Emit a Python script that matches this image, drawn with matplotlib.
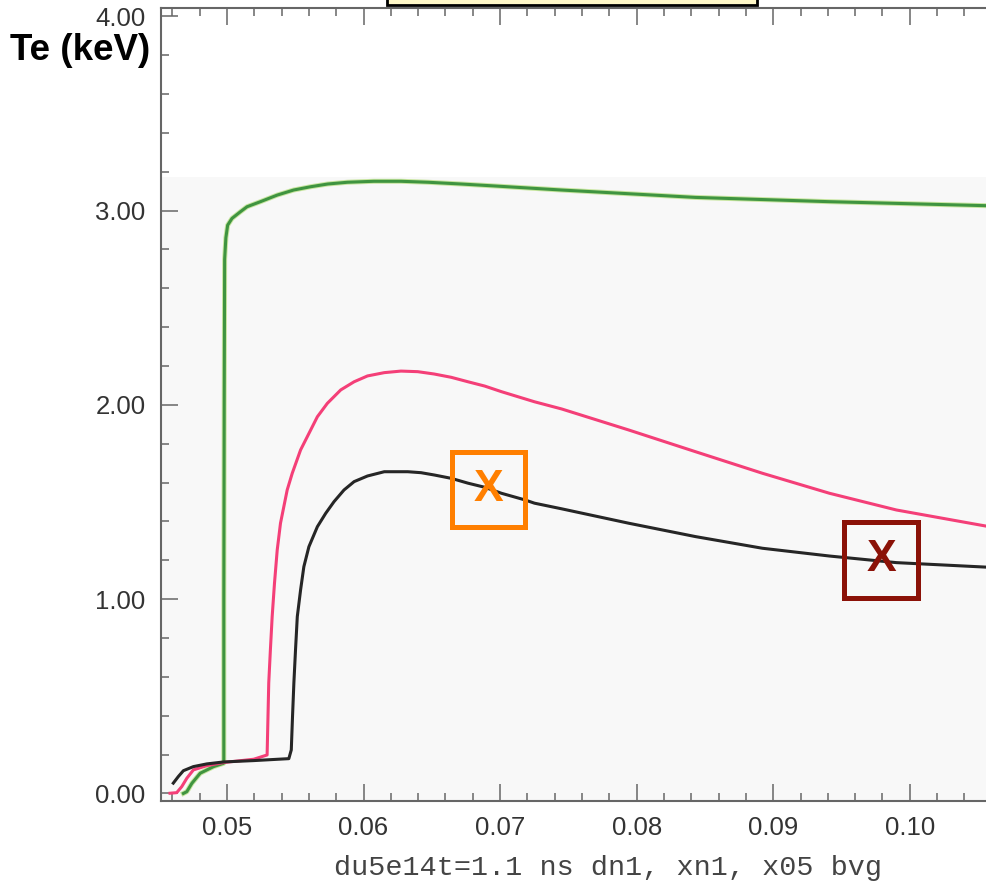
import numpy as np
import matplotlib.pyplot as plt
from matplotlib.patches import Rectangle
from matplotlib.ticker import MultipleLocator, FormatStrFormatter

# Te profiles (x in cm, Te in keV)
green_x = [0.04681, 0.04706, 0.04743, 0.04804, 0.04902, 0.04975, 0.04977, 0.04977,
           0.04980, 0.04983, 0.04992, 0.05005, 0.05037, 0.05098, 0.05147, 0.05245,
           0.05368, 0.05488, 0.05613, 0.05738, 0.05882, 0.06076, 0.06274, 0.06473,
           0.06715, 0.06958, 0.07451, 0.08431, 0.09412, 0.10583]
green_y = [0.000, 0.009, 0.052, 0.104, 0.138, 0.155, 0.157, 0.996,
           2.025, 2.750, 2.860, 2.925, 2.960, 2.994, 3.020, 3.046,
           3.080, 3.106, 3.123, 3.137, 3.146, 3.151, 3.151, 3.146,
           3.137, 3.127, 3.106, 3.068, 3.046, 3.025]

pink_x = [0.04583, 0.04632, 0.04669, 0.04706, 0.04754, 0.04853, 0.04975, 0.05196,
          0.05294, 0.05306, 0.05318, 0.05331, 0.05348, 0.05368, 0.05392, 0.05441,
          0.05478, 0.05539, 0.05588, 0.05662, 0.05735, 0.05833, 0.05931, 0.06029,
          0.06152, 0.06274, 0.06397, 0.06517, 0.06642, 0.06765, 0.06887, 0.07010,
          0.07252, 0.07451, 0.07941, 0.08431, 0.08921, 0.09412, 0.09902, 0.10583]
pink_y = [0.001, 0.004, 0.035, 0.078, 0.121, 0.143, 0.159, 0.176,
          0.198, 0.569, 0.739, 0.910, 1.082, 1.253, 1.391, 1.562,
          1.648, 1.768, 1.836, 1.939, 2.008, 2.077, 2.119, 2.149,
          2.166, 2.174, 2.171, 2.159, 2.142, 2.119, 2.097, 2.068,
          2.016, 1.979, 1.871, 1.759, 1.648, 1.545, 1.459, 1.373]

black_x = [0.04607, 0.04644, 0.04681, 0.04754, 0.04853, 0.04975, 0.05196, 0.05453,
           0.05471, 0.05480, 0.05490, 0.05502, 0.05515, 0.05539, 0.05563, 0.05600,
           0.05662, 0.05723, 0.05784, 0.05857, 0.05931, 0.06029, 0.06152, 0.06225,
           0.06324, 0.06421, 0.06519, 0.06642, 0.06765, 0.06887, 0.07010, 0.07181,
           0.07252, 0.07451, 0.07941, 0.08431, 0.08921, 0.09412, 0.09902, 0.10583]
black_y = [0.053, 0.087, 0.117, 0.138, 0.152, 0.162, 0.169, 0.179,
           0.224, 0.395, 0.569, 0.739, 0.910, 1.047, 1.167, 1.270,
           1.373, 1.442, 1.502, 1.562, 1.605, 1.634, 1.656, 1.656,
           1.656, 1.651, 1.639, 1.622, 1.597, 1.576, 1.545, 1.511,
           1.494, 1.465, 1.391, 1.322, 1.262, 1.222, 1.188, 1.164]

xticks = [0.05, 0.06, 0.07, 0.08, 0.09, 0.10]
yticks = [0.0, 1.0, 2.0, 3.0, 4.0]

# marked points (centre x, centre y, colour)
marks = [(0.06912, 1.565, '#ff7f00'), (0.09789, 1.202, '#8b1208')]

fig = plt.figure(figsize=(9.86, 8.84), dpi=100)
ax = fig.add_axes([161/986, 1 - 801/884, 1 - 161/986, (801 - 8)/884])
ax.set_xlim(0.04517, 0.10558)
ax.set_ylim(-0.039, 4.043)

ax.axhspan(-0.039, 3.173, color='#f8f8f8', zorder=0, lw=0)

ax.plot(green_x, green_y, color='#c8e6a0', lw=3.6, solid_joinstyle='round', zorder=2)
ax.plot(green_x, green_y, color='#3f9440', lw=2.2, solid_joinstyle='round', zorder=3)
ax.plot(pink_x, pink_y, color='#f43f78', lw=2.2, solid_joinstyle='round', zorder=3)
ax.plot(black_x, black_y, color='#262626', lw=2.2, solid_joinstyle='round', zorder=3)

for mx, my, c in marks:
    w, h = 0.00535, 0.387
    ax.add_patch(Rectangle((mx - w/2, my - h/2), w, h, fill=False, ec=c, lw=3.6, zorder=5))
    ax.text(mx, my, 'X', color=c, fontsize=32, fontweight='bold', family='Liberation Sans',
            ha='center', va='center', zorder=6)

ax.set_xticks(xticks)
ax.set_yticks(yticks)
ax.xaxis.set_minor_locator(MultipleLocator(0.002))
ax.yaxis.set_minor_locator(MultipleLocator(0.2))
ax.xaxis.set_major_formatter(FormatStrFormatter('%.2f'))
ax.yaxis.set_major_formatter(FormatStrFormatter('%.2f'))
ax.tick_params(which='both', direction='in', top=True, right=False, color='#666', width=1.1)
ax.tick_params(which='major', length=12, labelsize=18.5, labelcolor='#333')
ax.tick_params(which='minor', length=6)
ax.tick_params(axis='y', pad=11)
ax.tick_params(axis='x', pad=11)
for lab in ax.get_xticklabels() + ax.get_yticklabels():
    lab.set_family('Liberation Sans')

for s in ['left', 'bottom', 'top']:
    ax.spines[s].set_color('#666')
    ax.spines[s].set_linewidth(1.5)
ax.spines['right'].set_visible(False)

fig.text(608/986, 1 - 868/884, 'du5e14t=1.1 ns dn1, xn1, x05 bvg', family='Liberation Mono',
         fontsize=20.5, color='#444', ha='center', va='center')
fig.text(10/986, 1 - 50/884, 'Te (keV)', family='Liberation Sans', fontweight='bold',
         fontsize=26.5, color='black', ha='left', va='center')

# title box cut off at the top edge
fig.patches.append(Rectangle((387/986, 1 - 5/884), 370/986, 0.05, transform=fig.transFigure,
                             fc='#fff8c8', ec='black', lw=2, zorder=10))

fig.savefig('out.png', dpi=100)
